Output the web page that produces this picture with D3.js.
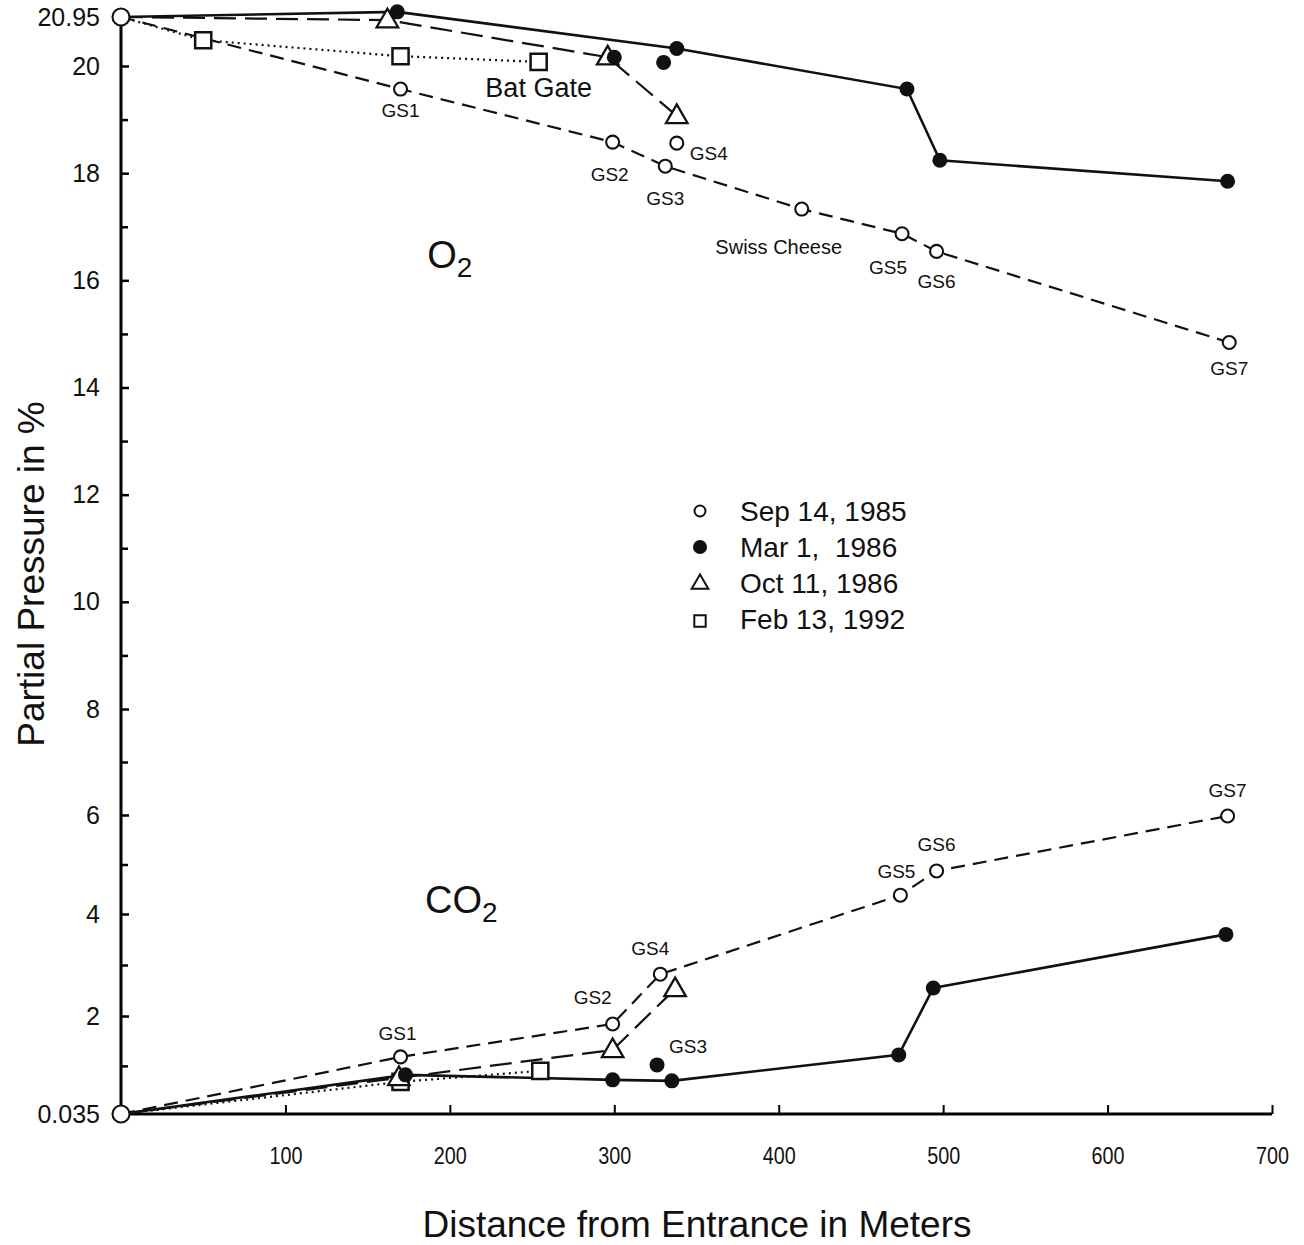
<!DOCTYPE html>
<html>
<head>
<meta charset="utf-8">
<script src="https://cdn.jsdelivr.net/npm/d3@7"></script>
<style>
  html, body { margin: 0; padding: 0; background: #fff; }
  svg { display: block; font-family: Arial, "Liberation Sans", Helvetica, sans-serif; }
</style>
</head>
<body>
<svg id="chart" width="1304" height="1245"></svg>
<script>
// ---------------- DATA ----------------
// [distance in meters, partial pressure in %]
const sepO2 = [[0,20.95],[170,19.57],[299,18.58],[331,18.13],[414,17.33],[475,16.87],[496,16.54],[674,14.84]];
const sepO2Unlinked = [[338,18.56]];
const marO2 = [[0,20.95],[168,21.05],[338,20.34],[478,19.57],[498,18.24],[673,17.85]];
const marO2Unlinked = [[300,20.17],[330,20.07]];
const octO2 = [[0,20.95],[162,20.89],[296,20.17],[338,19.07]];
const febO2 = [[0,20.95],[50,20.50],[170,20.19],[254,20.08]];

const sepCO2 = [[0,0.035],[170,1.18],[299,1.84],[328,2.82],[474,4.38],[496,4.87],[673,5.98]];
const marCO2 = [[0,0.035],[173,0.82],[299,0.72],[335,0.70],[473,1.22],[494,2.55],[672,3.60]];
const marCO2Unlinked = [[326,1.02]];
const octCO2 = [[0,0.035],[169,0.76],[299,1.32],[337,2.53]];
const febCO2 = [[0,0.035],[170,0.68],[255,0.90]];

const xTicks = [100,200,300,400,500,600,700];
const yTicks = [0.035,2,4,6,8,10,12,14,16,18,20,20.95];
const yTickLabels = ["0.035","2","4","6","8","10","12","14","16","18","20","20.95"];
const yMinorTicks = [1,3,5,7,9,11,13,15,17,19];

const legendLabels = ["Sep 14, 1985","Mar 1,  1986","Oct 11, 1986","Feb 13, 1992"];

// point annotations: text + anchor [distance, value]
const annotations = [
  {text:"GS1", at:[170,19.57]}, {text:"GS2", at:[299,18.58]}, {text:"GS3", at:[331,18.13]},
  {text:"GS4", at:[338,18.56]}, {text:"Swiss Cheese", at:[414,17.33]}, {text:"GS5", at:[475,16.87]},
  {text:"GS6", at:[496,16.54]}, {text:"GS7", at:[674,14.84]}, {text:"Bat Gate", at:[254,20.08]},
  {text:"GS1", at:[170,1.18]}, {text:"GS2", at:[299,1.84]}, {text:"GS4", at:[328,2.82]},
  {text:"GS3", at:[326,1.02]}, {text:"GS5", at:[474,4.38]}, {text:"GS6", at:[496,4.87]},
  {text:"GS7", at:[673,5.98]}
];

// ---------------- LAYOUT ----------------
const svg = d3.select("#chart");
const x = d3.scaleLinear().domain([0,700]).range([121,1272]);
// calibrated to the printed axis (the lower part of the original axis is slightly compressed)
const y = d3.scaleLinear().domain([0.035,2,4,6,8,20,20.95]).range([1114,1016,914,815,709,66,17]);

const labelOffsets = [
  [0,21],[-3,32],[0,32],[32,10],[-23,38],[-14,34],[0,30],[0,26],[0,26],
  [-3,-23],[-20,-26],[-10,-26],[31,-18],[-4,-24],[0,-26],[0,-25]
];
const labelSizes = [19,19,19,19,20,19,19,19,27,19,19,19,19,19,19,19];

// ---------------- AXES ----------------
const xAxis = d3.axisBottom(x).tickValues(xTicks).tickSize(-9).tickSizeOuter(0).tickPadding(33);
const gx = svg.append("g").attr("transform",`translate(0,${y(0.035)})`).call(xAxis);
gx.select(".domain").attr("stroke-width",3).attr("d",`M${x(0)-2},0H${x(700)}`);
gx.selectAll(".tick line").attr("stroke-width",2);
gx.selectAll(".tick text").attr("font-size",24).attr("fill","#111")
  .attr("font-family","Arial, 'Liberation Sans', sans-serif")
  .attr("textLength",33).attr("lengthAdjust","spacingAndGlyphs");

const yAxis = d3.axisLeft(y).tickValues(yTicks).tickSize(-8).tickSizeOuter(0).tickPadding(21)
  .tickFormat((d,i) => yTickLabels[i]);
const gy = svg.append("g").attr("transform",`translate(${x(0)},0)`).call(yAxis);
gy.select(".domain").attr("stroke-width",3).attr("d",`M0,${y(20.95)}V${y(0.035)+1.5}`);
gy.selectAll(".tick line").attr("stroke-width",2.5)
  .attr("display",d => (d===0.035||d===20.95) ? "none" : null);
gy.selectAll(".tick text").attr("font-size",25).attr("fill","#111").attr("font-family","Arial, 'Liberation Sans', sans-serif");

const yMinor = d3.axisLeft(y).tickValues(yMinorTicks).tickSize(-7).tickFormat("");
const gym = svg.append("g").attr("transform",`translate(${x(0)},0)`).call(yMinor);
gym.select(".domain").remove();
gym.selectAll(".tick line").attr("stroke-width",2.5);

// axis titles
svg.append("text").attr("x",697).attr("y",1237).attr("text-anchor","middle")
  .attr("font-size",37).attr("fill","#111")
  .text("Distance from Entrance in Meters");
svg.append("text").attr("transform","translate(44,574) rotate(-90)").attr("text-anchor","middle")
  .attr("font-size",37).attr("fill","#111")
  .text("Partial Pressure in %");

// ---------------- LINES ----------------
const line = d3.line().x(d => x(d[0])).y(d => y(d[1]));
const styles = {
  sep: {dash:"14,8", w:2.2},
  mar: {dash:null, w:2.6},
  oct: {dash:"22,9", w:2.2},
  feb: {dash:"2,4", w:2.2}
};
function drawLine(data, st) {
  svg.append("path").datum(data).attr("d",line).attr("fill","none")
    .attr("stroke","#111").attr("stroke-width",st.w)
    .attr("stroke-dasharray",st.dash);
}
drawLine(febO2, styles.feb); drawLine(octO2, styles.oct); drawLine(sepO2, styles.sep); drawLine(marO2, styles.mar);
drawLine(febCO2, styles.feb); drawLine(octCO2, styles.oct); drawLine(sepCO2, styles.sep); drawLine(marCO2, styles.mar);

// ---------------- MARKERS ----------------
const tri = d3.symbol().type(d3.symbolTriangle).size(200);
const sq = d3.symbol().type(d3.symbolSquare).size(260);
function squares(data) {
  svg.append("g").selectAll("path").data(data.slice(1)).join("path")
    .attr("d",sq).attr("transform",d=>`translate(${x(d[0])},${y(d[1])})`)
    .attr("fill","#fff").attr("stroke","#111").attr("stroke-width",2.5);
}
function triangles(data) {
  svg.append("g").selectAll("path").data(data.slice(1)).join("path")
    .attr("d",tri).attr("transform",d=>`translate(${x(d[0])},${y(d[1])+1})`)
    .attr("fill","#fff").attr("stroke","#111").attr("stroke-width",2.3);
}
function filled(data) {
  svg.append("g").selectAll("circle").data(data).join("circle")
    .attr("cx",d=>x(d[0])).attr("cy",d=>y(d[1])).attr("r",7.5).attr("fill","#111");
}
function open(data, first) {
  svg.append("g").selectAll("circle").data(data).join("circle")
    .attr("cx",d=>x(d[0])).attr("cy",d=>y(d[1]))
    .attr("r",(d,i)=> (first && i===0) ? 8.5 : 6.5)
    .attr("fill","#fff").attr("stroke","#111").attr("stroke-width",2.1);
}
squares(febO2); squares(febCO2);
triangles(octO2); triangles(octCO2);
filled(marO2.slice(1)); filled(marO2Unlinked); filled(marCO2.slice(1)); filled(marCO2Unlinked);
open(sepO2, true); open(sepO2Unlinked, false); open(sepCO2, true);

// ---------------- ANNOTATIONS ----------------
svg.append("g").selectAll("text").data(annotations).join("text")
  .attr("x",(d,i)=>x(d.at[0])+labelOffsets[i][0])
  .attr("y",(d,i)=>y(d.at[1])+labelOffsets[i][1])
  .attr("text-anchor","middle").attr("dominant-baseline","central")
  .attr("font-size",(d,i)=>labelSizes[i]).attr("fill","#111")
  .text(d=>d.text);

function gasLabel(main, px, py) {
  const t = svg.append("text").attr("x",px).attr("y",py).attr("font-size",38).attr("fill","#111")
    .attr("text-anchor","middle");
  t.append("tspan").text(main);
  t.append("tspan").attr("font-size",28).attr("dy",9).text("2");
}
gasLabel("O", x(200), y(16.5)+14);
gasLabel("CO", x(207), y(4.3)+14);

// ---------------- LEGEND ----------------
const lg = svg.append("g").attr("transform","translate(700,511)");
const rowH = 36;
legendLabels.forEach((lab,i) => {
  const g = lg.append("g").attr("transform",`translate(0,${i*rowH})`);
  if (i===0) g.append("circle").attr("r",5.5).attr("fill","#fff").attr("stroke","#111").attr("stroke-width",2);
  if (i===1) g.append("circle").attr("r",7).attr("fill","#111");
  if (i===2) g.append("path").attr("d",d3.symbol().type(d3.symbolTriangle).size(120)).attr("transform","translate(0,1)")
    .attr("fill","#fff").attr("stroke","#111").attr("stroke-width",2);
  if (i===3) g.append("path").attr("d",d3.symbol().type(d3.symbolSquare).size(130)).attr("transform","translate(0,2)")
    .attr("fill","#fff").attr("stroke","#111").attr("stroke-width",2);
  g.append("text").attr("x",40).attr("y",0).attr("dominant-baseline","central")
    .attr("font-size",28).attr("fill","#111").style("white-space","pre")
    .text(lab);
});
</script>
</body>
</html>
